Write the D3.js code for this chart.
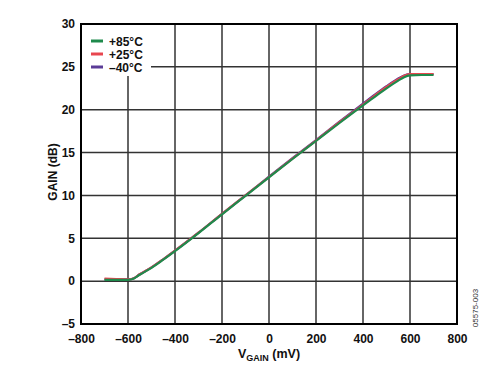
<!DOCTYPE html>
<html><head><meta charset="utf-8">
<script src="https://cdn.jsdelivr.net/npm/d3@7"></script>
<style>body{margin:0;background:#fff}svg{display:block}text{font-family:Arial,"Liberation Sans",sans-serif}</style>
</head><body>
<svg id="c" width="500" height="380"></svg>
<script>
const vgain = [-700,-650,-600,-575,-550,-500,-450,-400,-300,-200,-100,0,100,200,300,400,450,500,550,575,600,650,700];
const gain85 = [0.15,0.15,0.15,0.3,0.75,1.55,2.5,3.5,5.6,7.8,9.95,12.1,14.25,16.35,18.45,20.5,21.5,22.5,23.4,23.8,24.0,24.05,24.05];
const gain25 = [0.3,0.25,0.2,0.35,0.8,1.6,2.55,3.55,5.65,7.85,10.0,12.15,14.3,16.4,18.55,20.6,21.65,22.65,23.55,23.95,24.15,24.15,24.15];
const gainM40 = [0.2,0.2,0.2,0.35,0.8,1.6,2.55,3.55,5.65,7.85,10.0,12.2,14.35,16.45,18.6,20.7,21.75,22.75,23.65,24.0,24.15,24.15,24.15];
const xTicks = [-800,-600,-400,-200,0,200,400,600,800];
const yTicks = [-5,0,5,10,15,20,25,30];
const seriesNames = ["+85°C","+25°C","\u201340°C"];
const colors = ["#1f8a4c","#e8464f","#5b3c97"];

const svg = d3.select("#c");
const L=81,R=457,T=24,B=324;
const x = d3.scaleLinear().domain([-800,800]).range([L,R]);
const y = d3.scaleLinear().domain([-5,30]).range([B,T]);
const fmt = d => d<0 ? "\u2013"+Math.abs(d) : String(d);

// grid
const g = svg.append("g");
g.selectAll("line.v").data(xTicks.slice(1,-1)).join("line")
 .attr("x1",d=>x(d)).attr("x2",d=>x(d)).attr("y1",T).attr("y2",B)
 .attr("stroke","#333").attr("stroke-width",1.5);
g.selectAll("line.h").data(yTicks.slice(1,-1)).join("line")
 .attr("y1",d=>y(d)).attr("y2",d=>y(d)).attr("x1",L).attr("x2",R)
 .attr("stroke","#333").attr("stroke-width",1.5);

// legend background
svg.append("rect").attr("x",L+1).attr("y",T+1).attr("width",69).attr("height",51).attr("fill","#fff");

// lines
const line = d3.line().x((d,i)=>x(vgain[i])).y(d=>y(d)).curve(d3.curveMonotoneX);
[gainM40,gain25,gain85].forEach((s,k)=>{
  const c=[colors[2],colors[1],colors[0]][k];
  svg.append("path").attr("d",line(s)).attr("fill","none").attr("stroke",c).attr("stroke-width",2.2);
});

// frame
svg.append("rect").attr("x",L).attr("y",T).attr("width",R-L).attr("height",B-T)
 .attr("fill","none").attr("stroke","#000").attr("stroke-width",2);

// axes labels
const xa = d3.axisBottom(x).tickValues(xTicks).tickFormat(fmt).tickSize(0).tickPadding(10);
const xg = svg.append("g").attr("transform",`translate(0,${B})`).call(xa);
xg.select(".domain").remove();
xg.selectAll("text").attr("font-size",12).attr("font-weight","bold").attr("fill","#111");
const ya = d3.axisLeft(y).tickValues(yTicks).tickFormat(fmt).tickSize(0).tickPadding(6);
const yg = svg.append("g").attr("transform",`translate(${L},0)`).call(ya);
yg.select(".domain").remove();
yg.selectAll("text").attr("font-size",12).attr("font-weight","bold").attr("fill","#111");

// titles
const xt = svg.append("text").attr("x",269).attr("y",358).attr("text-anchor","middle")
 .attr("font-size",12.5).attr("font-weight","bold").attr("fill","#111");
xt.append("tspan").text("V");
xt.append("tspan").text("GAIN").attr("font-size",9).attr("dy",3);
xt.append("tspan").text(" (mV)").attr("dy",-3);
svg.append("text").attr("transform","translate(57,172) rotate(-90)").attr("text-anchor","middle")
 .attr("font-size",12).attr("font-weight","bold").attr("fill","#111").text("GAIN (dB)");
svg.append("text").attr("transform","translate(478,308) rotate(-90)").attr("text-anchor","middle")
 .attr("font-size",8).attr("fill","#333").text("05575-003");

// legend
const lg = svg.append("g");
seriesNames.forEach((n,i)=>{
  const yy = 41+i*13;
  lg.append("line").attr("x1",91).attr("x2",103).attr("y1",yy).attr("y2",yy).attr("stroke",colors[i]).attr("stroke-width",3);
  lg.append("text").attr("x",109).attr("y",yy+4.5).attr("font-size",12).attr("font-weight","bold").attr("fill","#111").text(n);
});
</script>
</body></html>
